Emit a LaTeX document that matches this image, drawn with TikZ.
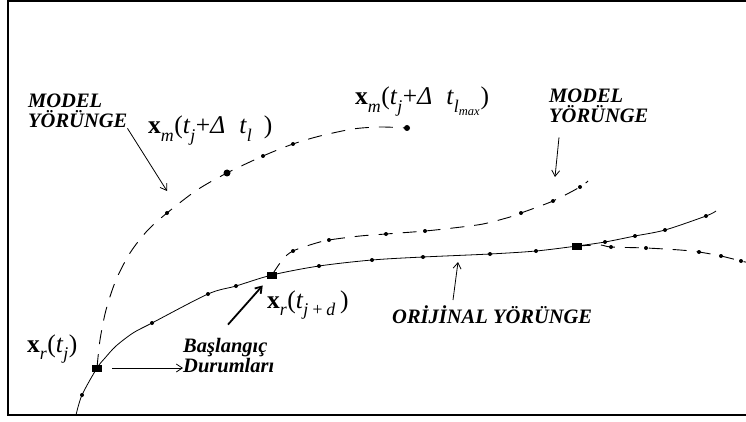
\documentclass[tikz,border=0pt]{standalone}
\usepackage{fontspec}
\setmainfont{Liberation Serif}
\usetikzlibrary{arrows.meta,positioning}

\tikzset{
  traj/.style={line width=0.8pt},
  modeltraj/.style={line width=0.9pt, dash pattern=on 14pt off 10pt},
  pt/.style={circle, fill=black, inner sep=0pt, minimum size=4pt},
  bigpt/.style={circle, fill=black, inner sep=0pt, minimum size=7pt},
  sq/.style={rectangle, fill=black, inner sep=0pt, minimum width=10pt, minimum height=7pt},
  tag/.style={font=\fontsize{20.5}{20}\selectfont\bfseries\itshape, inner sep=0pt, align=left},
  vec/.style={font=\fontsize{25.5}{27}\selectfont, inner sep=0pt},
  barb/.style={-{Straight Barb[length=6pt,width=8pt]}, line width=0.8pt}
}

\newcommand{\vx}{\textbf{x}}
\newcommand{\lo}[1]{\raisebox{-4pt}{\textsubscript{\itshape #1}}}

\begin{document}
\begin{tikzpicture}[x=1pt,y=-1pt]
  \useasboundingbox (0,0) rectangle (746,422);

  % Frame
  \draw[line width=1.8pt] (760,1) -- (8,1) -- (8,415) -- (760,415);

  % Original trajectory
  \draw[traj] plot[smooth] coordinates {(76,415) (82,395) (97,368) (105,358) (116,346) (133,333) (152,323) (208,294) (236,286) (272,275) (319,266) (372,260) (423,257) (490,254) (536,251) (577,246) (605,242) (635,236) (665,230) (706,216) (716,211)};
  \foreach \p [count=\i] in {(82,395),(152,323),(208,294),(236,286),(319,266),(372,260),(423,257),(490,254),(536,251),(605,242),(635,236),(665,230),(706,216)}
    \node[pt] (o\i) at \p {};

  % Model trajectory 1
  \draw[modeltraj] plot[smooth] coordinates {(97,368) (100,340) (106,310) (116,280) (130,253) (147,231) (167,213) (197,190) (227,173) (263,156) (293,144) (320,136) (353,129) (380,127) (407,128)};
  \foreach \p [count=\i] in {(167,213),(263,156),(293,144)}
    \node[pt] (a\i) at \p {};
  \node[bigpt] (a-big) at (227,173) {};
  \node[bigpt, minimum size=6pt] (a-end) at (407,128) {};

  % Model trajectory 2
  \draw[modeltraj] plot[smooth] coordinates {(272,275) (283,259) (293,251) (313,244) (329,240) (360,236) (386,234) (425,231) (453,228) (483,224) (510,217) (521,213) (553,201) (580,187) (588,181)};
  \foreach \p [count=\i] in {(293,251),(329,240),(386,234),(425,231),(521,213),(553,201),(580,187)}
    \node[pt] (b\i) at \p {};

  % Model trajectory 3
  \draw[modeltraj] plot[smooth] coordinates {(577,246) (600,245) (611,247) (646,248) (680,250) (699,252) (721,256) (741,261) (750,263)};
  \foreach \p [count=\i] in {(611,247),(646,248),(699,252),(721,256),(741,261)}
    \node[pt] (c\i) at \p {};

  % Initial states
  \node[sq] (s1) at (97,368) {};
  \node[sq] (s2) at (272,275) {};
  \node[sq] (s3) at (577,246) {};

  % Labels of the points
  \node[vec, anchor=base west] (xrj) at (27,352) {\vx\lo{r}(\textit{t}\lo{j})};
  \node[vec, anchor=base west] (xrjd) at (267,308) {\vx\lo{r}(\textit{t}\lo{j\,+\,d}\,)};
  \node[vec, anchor=base west] (xml) at (148,134) {\vx\lo{m}(\textit{t}\lo{j}+\textit{Δ}\hspace{0.55em}\textit{t}\lo{l}\hspace{0.45em})};
  \node[vec, anchor=base west] (xmmax) at (355,105) {\vx\lo{m}(\textit{t}\lo{j}+\textit{Δ}\hspace{0.55em}\textit{t}\lo{l\textsubscript{max}})};

  % Model trajectory, left
  \node[tag, anchor=base west] (ml) at (28,128) {MODEL\\YÖRÜNGE};
  \coordinate (ml-tip) at (167,191);
  \draw[barb] (ml.south east) -- (ml-tip);

  % Model trajectory, right
  \node[tag, anchor=base west] (mr) at (549,123) {MODEL\\YÖRÜNGE};
  \coordinate (mr-tip) at (555,177);
  \draw[barb] ([shift={(10,14)}]mr.south west) -- (mr-tip);

  % Initial states label
  \node[tag, anchor=base west] (bd) at (183,372) {Başlangıç\\Durumları};
  \draw[barb] ([xshift=10pt]s1.east) -- (s1.east -| bd.west);
  \draw[barb, line width=1.8pt, shorten >=9pt] ([xshift=45pt,yshift=13pt]bd.north west) -- (s2);

  % Original trajectory label
  \node[tag, anchor=base west] (oy) at (392,323) {ORİJİNAL YÖRÜNGE};
  \coordinate (oy-tip) at (458,262);
  \draw[barb] ([xshift=61pt,yshift=5pt]oy.north west) -- (oy-tip);
\end{tikzpicture}
\end{document}
